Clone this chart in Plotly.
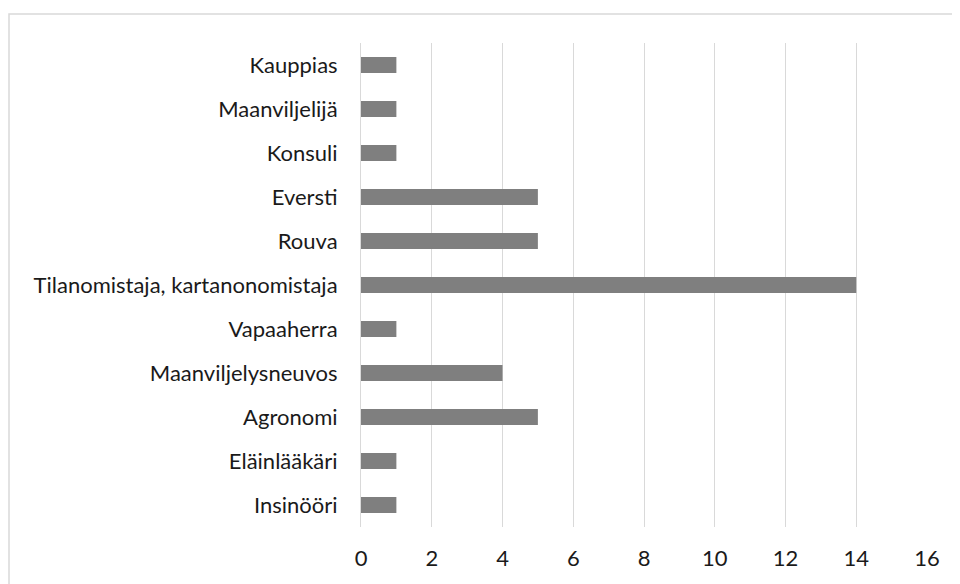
import plotly.graph_objects as go

categories = ["Insinööri", "Eläinlääkäri", "Agronomi", "Maanviljelysneuvos", "Vapaaherra",
              "Tilanomistaja, kartanonomistaja", "Rouva", "Eversti", "Konsuli",
              "Maanviljelijä", "Kauppias"]
values = [1, 1, 5, 4, 1, 14, 5, 5, 1, 1, 1]
x_ticks = [0, 2, 4, 6, 8, 10, 12, 14, 16]

W, H = 960, 584
L, R, T, B = 353, 41, 35, 65
pw, ph = W - L - R, H - T - B

fig = go.Figure(go.Bar(
    x=values, y=categories, orientation="h",
    marker=dict(color="#7f7f7f", line=dict(width=0)),
))

fig.update_layout(
    width=W, height=H,
    margin=dict(l=L, r=R, t=T, b=B),
    paper_bgcolor="white", plot_bgcolor="white",
    bargap=0.64,
    showlegend=False,
    font=dict(family="Lato", size=22, color="#1a1a1a"),
)
fig.update_xaxes(
    range=[0, 16], tickvals=x_ticks, showgrid=True, gridcolor="#d9d9d9", gridwidth=1,
    zeroline=False, showline=False, ticks="", ticklabelstandoff=16,
    tickfont=dict(family="Lato", size=22, color="#1a1a1a"),
)
fig.update_yaxes(
    showgrid=False, zeroline=False, showline=True, linecolor="#d9d9d9", linewidth=1,
    ticks="", ticklabelstandoff=18,
    tickfont=dict(family="Lato", size=22, color="#1a1a1a"),
)

# outer chart border
fig.add_shape(type="rect", xref="paper", yref="paper",
              x0=(1 - L) / pw, x1=(970 - L) / pw,
              y0=(H - B - 600) / ph, y1=(H - B - 6) / ph,
              line=dict(color="#d9d9d9", width=1.5), fillcolor="rgba(0,0,0,0)", layer="below")

fig.write_html("out.html")
